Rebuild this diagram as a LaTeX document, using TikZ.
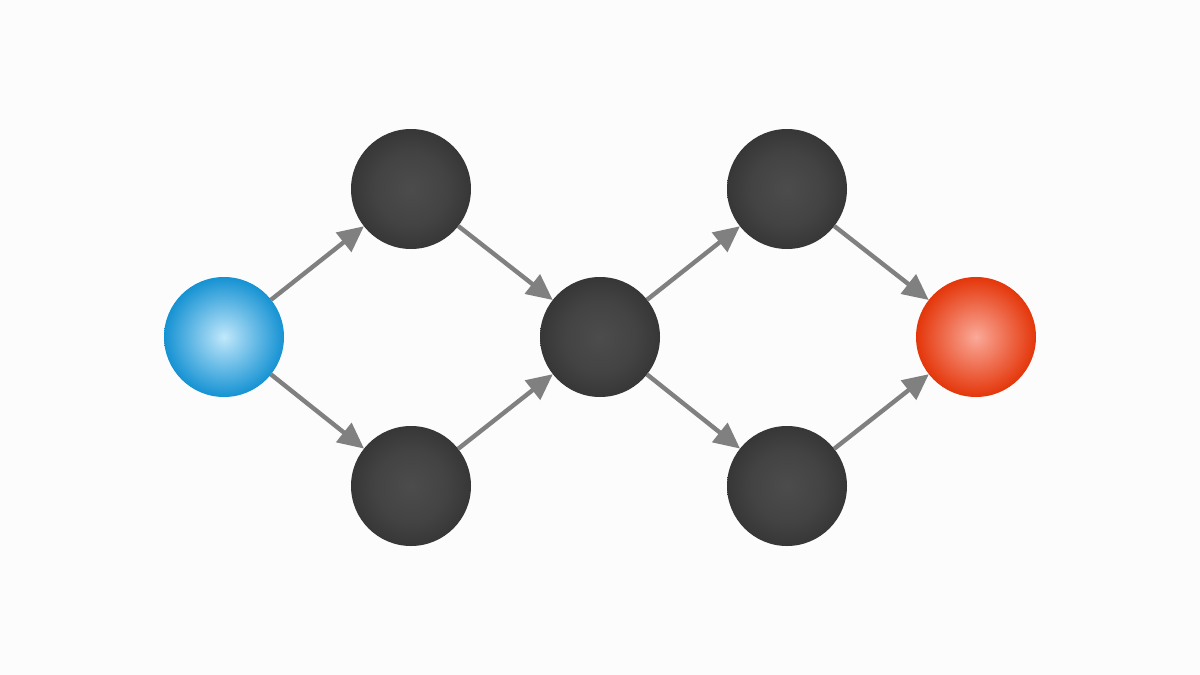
\documentclass[tikz,border=0pt]{standalone}
\usetikzlibrary{arrows.meta}
\definecolor{bgc}{HTML}{FCFCFC}
\definecolor{edgec}{HTML}{808080}
\definecolor{bluein}{HTML}{C2E8FB}
\definecolor{blueout}{HTML}{1592D3}
\definecolor{redin}{HTML}{FAAA9A}
\definecolor{redout}{HTML}{E4360A}
\definecolor{darkin}{HTML}{4C4C4C}
\definecolor{darkout}{HTML}{2E2E2E}
\pgfdeclareradialshading{ballblue}{\pgfpoint{0bp}{0bp}}{color(0bp)=(bluein); color(6bp)=(bluein!75!blueout); color(25bp)=(blueout); color(50bp)=(blueout)}
\pgfdeclareradialshading{ballred}{\pgfpoint{0bp}{0bp}}{color(0bp)=(redin); color(6bp)=(redin!75!redout); color(25bp)=(redout); color(50bp)=(redout)}
\pgfdeclareradialshading{balldark}{\pgfpoint{0bp}{0bp}}{color(0bp)=(darkin); color(15bp)=(darkin!70!darkout); color(32bp)=(darkout); color(50bp)=(darkout)}
\tikzset{
  ball/.style={circle, minimum size=60pt, inner sep=0pt, outer sep=0pt},
  darkball/.style={ball, shading=balldark},
  blueball/.style={ball, shading=ballblue},
  redball/.style={ball, shading=ballred},
  link/.style={draw=edgec, line width=2.2pt, -{Triangle[length=13pt,width=12pt]}}
}
\begin{document}
\begin{tikzpicture}[x=0.5pt,y=-0.5pt]
\fill[bgc] (0,0) rectangle (1200,675);
\useasboundingbox (0,0) rectangle (1200,675);
\node[blueball] (s) at (224,337) {};
\node[darkball] (t1) at (411,189) {};
\node[darkball] (b1) at (411,486) {};
\node[darkball] (m) at (600,337) {};
\node[darkball] (t2) at (787,189) {};
\node[darkball] (b2) at (787,486) {};
\node[redball] (e) at (976,337) {};
\draw[link] (s) -- (t1);
\draw[link] (s) -- (b1);
\draw[link] (t1) -- (m);
\draw[link] (b1) -- (m);
\draw[link] (m) -- (t2);
\draw[link] (m) -- (b2);
\draw[link] (t2) -- (e);
\draw[link] (b2) -- (e);
\end{tikzpicture}
\end{document}
